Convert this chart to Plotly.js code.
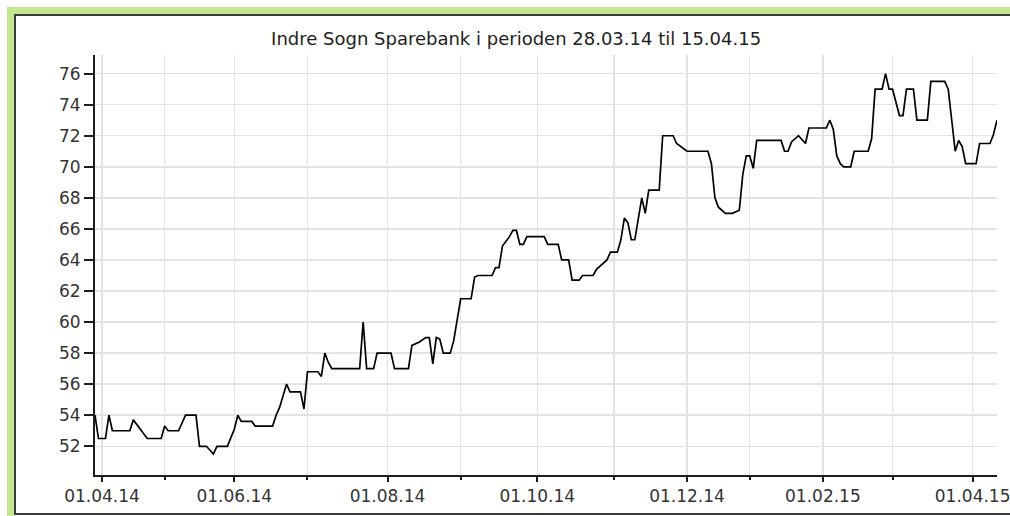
<!DOCTYPE html>
<html>
<head>
<meta charset="utf-8">
<script src="https://cdn.plot.ly/plotly-3.0.1.min.js"></script>
<style>
  html, body { margin: 0; padding: 0; background: #ffffff; }
  #wrap { position: relative; width: 1010px; height: 516px; overflow: hidden; background: #ffffff; }
  #frameGreen { position: absolute; left: 7px; top: 7px; width: 1020px; height: 530px;
                border-left: 7px solid #c3e78e; border-top: 7px solid #c3e78e; }
  #frameDark { position: absolute; left: 14px; top: 14px; width: 1020px; height: 497px;
               border-left: 2px solid #3a3a3a; border-top: 2px solid #3a3a3a; border-bottom: 2px solid #3a3a3a; }
  #chart { position: absolute; left: 0; top: 0; width: 1010px; height: 516px; }
</style>
</head>
<body>
<div id="wrap">
  <div id="frameGreen"></div>
  <div id="frameDark"></div>
  <div id="chart"></div>
</div>
<script>
// ---- data (closing prices; vertices of the price line) ----
const chartTitle = "Indre Sogn Sparebank i perioden 28.03.14 til 15.04.15";

const dates = [
  "2014-03-28","2014-03-31","2014-04-02","2014-04-03","2014-04-04","2014-04-11","2014-04-14","2014-04-16",
  "2014-04-23","2014-04-29","2014-04-30","2014-05-02","2014-05-07","2014-05-09","2014-05-14","2014-05-15",
  "2014-05-19","2014-05-21","2014-05-22","2014-05-27","2014-05-30","2014-06-02","2014-06-03","2014-06-06",
  "2014-06-10","2014-06-17","2014-06-18","2014-06-19","2014-06-23","2014-06-24","2014-06-27","2014-06-30",
  "2014-07-01","2014-07-04","2014-07-07","2014-07-08","2014-07-09","2014-07-10","2014-07-22","2014-07-23",
  "2014-07-24","2014-07-28","2014-07-29","2014-08-04","2014-08-05","2014-08-11","2014-08-12","2014-08-14",
  "2014-08-18","2014-08-19","2014-08-20","2014-08-21","2014-08-22","2014-08-25","2014-08-27","2014-08-28",
  "2014-09-01","2014-09-04","2014-09-05","2014-09-08","2014-09-12","2014-09-15","2014-09-16","2014-09-17",
  "2014-09-19","2014-09-22","2014-09-23","2014-09-24","2014-09-25","2014-09-26","2014-10-03","2014-10-06",
  "2014-10-09","2014-10-10","2014-10-14","2014-10-15","2014-10-17","2014-10-20","2014-10-23","2014-10-24",
  "2014-10-29","2014-10-30","2014-11-03","2014-11-04","2014-11-05","2014-11-06","2014-11-07","2014-11-10",
  "2014-11-12","2014-11-13","2014-11-14","2014-11-19","2014-11-20","2014-11-25","2014-11-26","2014-12-01",
  "2014-12-09","2014-12-10","2014-12-11","2014-12-12","2014-12-16","2014-12-18","2014-12-22","2014-12-23",
  "2014-12-29","2014-12-30","2015-01-02","2015-01-05","2015-01-14","2015-01-15","2015-01-16","2015-01-19",
  "2015-01-21","2015-01-23","2015-01-26","2015-02-02","2015-02-03","2015-02-04","2015-02-05","2015-02-06",
  "2015-02-09","2015-02-11","2015-02-12","2015-02-18","2015-02-19","2015-02-20","2015-02-24","2015-02-25",
  "2015-02-26","2015-02-27","2015-03-03","2015-03-04","2015-03-05","2015-03-09","2015-03-10","2015-03-13",
  "2015-03-16","2015-03-20","2015-03-23","2015-03-25","2015-03-26","2015-03-27","2015-03-30","2015-04-07",
  "2015-04-08","2015-04-13","2015-04-14","2015-04-15"
];

const prices = [
  54.0, 52.5, 52.5, 54.0, 53.0, 53.0, 53.7, 53.1,
  52.5, 52.5, 53.3, 53.0, 53.0, 54.0, 54.0, 52.0,
  52.0, 51.5, 52.0, 52.0, 53.1, 54.0, 53.6, 53.6,
  53.3, 53.3, 54.0, 54.5, 56.0, 55.5, 55.5, 54.4,
  56.8, 56.8, 56.5, 58.0, 57.4, 57.0, 57.0, 60.0,
  57.0, 57.0, 58.0, 58.0, 57.0, 57.0, 58.5, 58.7,
  59.0, 59.0, 57.3, 59.0, 58.9, 58.0, 58.0, 58.8,
  61.5, 61.5, 62.9, 63.0, 63.0, 63.5, 63.5, 64.9,
  65.5, 65.9, 65.9, 65.0, 65.0, 65.5, 65.5, 65.0,
  65.0, 64.0, 64.0, 62.7, 62.7, 63.0, 63.0, 63.4,
  64.0, 64.5, 64.5, 65.3, 66.7, 66.4, 65.3, 65.3,
  68.0, 67.0, 68.5, 68.5, 72.0, 72.0, 71.5, 71.0,
  71.0, 70.2, 68.0, 67.4, 67.0, 67.0, 67.2, 69.5,
  70.7, 70.7, 69.9, 71.7, 71.7, 71.0, 71.0, 71.6,
  72.0, 71.5, 72.5, 72.5, 73.0, 72.4, 70.7, 70.2,
  70.0, 70.0, 71.0, 71.0, 71.8, 75.0, 75.0, 76.0,
  75.0, 75.0, 73.3, 73.3, 75.0, 75.0, 73.0, 73.0,
  75.5, 75.5, 75.0, 71.0, 71.7, 71.3, 70.2, 70.2,
  71.5, 71.5, 72.1, 73.0
];

// Oslo Børs holidays (non-trading weekdays) in the period
const holidays = [
  "2014-04-17","2014-04-18","2014-04-21","2014-05-01","2014-05-29","2014-06-09",
  "2014-12-24","2014-12-25","2014-12-26","2014-12-31","2015-01-01",
  "2015-04-02","2015-04-03","2015-04-06"
];

// month ticks: placed on the last trading day on or before the 1st of the month
const tickDates  = ["2014-04-01","2014-05-30","2014-08-01","2014-10-01","2014-12-01","2015-01-30","2015-04-01"];
const tickLabels = ["01.04.14","01.06.14","01.08.14","01.10.14","01.12.14","01.02.15","01.04.15"];
const minorTickDates = ["2014-04-30","2014-07-01","2014-09-01","2014-10-31","2014-12-30","2015-02-27"];

const yTickStep = 2;
const xRange = ["2014-03-28", "2015-04-15"];
const yRange = [50.15, 77.2];

// ---- chart ----
const gridColor = "#e3e3e3";
const axisColor = "#1e1e1e";

const trace = {
  type: "scatter",
  mode: "lines",
  x: dates,
  y: prices,
  line: { color: "#000000", width: 1.7, shape: "linear" },
  hoverinfo: "x+y"
};

const layout = {
  width: 1010,
  height: 516,
  margin: { l: 95, r: 13, t: 55, b: 41, pad: 0 },
  paper_bgcolor: "rgba(0,0,0,0)",
  plot_bgcolor: "rgba(0,0,0,0)",
  showlegend: false,
  font: { family: "DejaVu Sans, Verdana, sans-serif", size: 17, color: "#333333" },
  title: {
    text: chartTitle,
    font: { family: "DejaVu Sans, Verdana, sans-serif", size: 18, color: "#222222" },
    xref: "container", x: 0.511, xanchor: "center",
    yref: "container", y: 1 - 39 / 516, yanchor: "middle"
  },
  xaxis: {
    type: "date",
    range: xRange,
    rangebreaks: [ { bounds: ["sat", "mon"] }, { values: holidays } ],
    tickmode: "array",
    tickvals: tickDates,
    ticktext: tickLabels,
    ticklabeloverflow: "allow",
    ticks: "outside", ticklen: 5, tickwidth: 2, tickcolor: axisColor,
    showline: true, linecolor: axisColor, linewidth: 2,
    showgrid: true, gridcolor: gridColor, gridwidth: 1.5,
    minor: {
      tickmode: "array", tickvals: minorTickDates,
      ticks: "outside", ticklen: 2.5, tickwidth: 2, tickcolor: axisColor,
      showgrid: true, gridcolor: gridColor, gridwidth: 1.5
    },
    zeroline: false, automargin: false, fixedrange: true
  },
  yaxis: {
    range: yRange,
    tickmode: "linear", tick0: 0, dtick: yTickStep,
    ticks: "outside", ticklen: 9, tickwidth: 2, tickcolor: axisColor,
    showline: true, linecolor: axisColor, linewidth: 2,
    showgrid: true, gridcolor: gridColor, gridwidth: 1.5,
    zeroline: false, automargin: false, fixedrange: true
  }
};

Plotly.newPlot("chart", [trace], layout, { displayModeBar: false, staticPlot: true });
</script>
</body>
</html>
